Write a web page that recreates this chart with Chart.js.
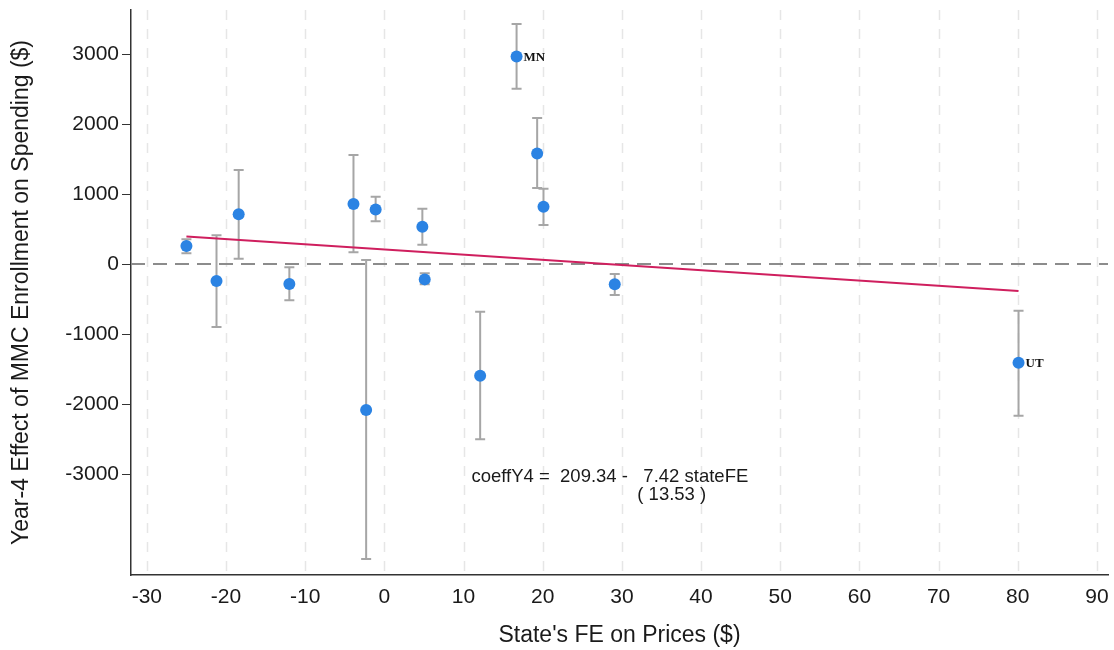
<!DOCTYPE html>
<html>
<head>
<meta charset="utf-8">
<script src="https://cdn.jsdelivr.net/npm/chart.js@4/dist/chart.umd.min.js"></script>
<style>
  html, body { margin: 0; padding: 0; background: #ffffff; }
  #wrap { width: 1114px; height: 650px; position: relative; }
</style>
</head>
<body>
<div id="wrap"><canvas id="c" width="1114" height="650"></canvas></div>
<script>
// State fixed effects on prices (x) and Year-4 coefficient (y) with CI bounds
const stateFE   = [-25.0, -21.2, -18.4, -12.0, -3.9, -1.1, -2.3, 4.8, 5.1, 12.1, 16.7, 19.3, 20.1, 29.1, 80.1];
const coeffY4   = [257, -243, 710, -286, 857, 781, -2086, 533, -219, -1595, 2967, 1581, 819, -290, -1410];
const ciHigh    = [353, 410, 1343, -47, 1557, 961, 57, 790, -133, -681, 3429, 2086, 1076, -143, -667];
const ciLow     = [153, -900, 76, -519, 167, 610, -4214, 276, -290, -2505, 2504, 1086, 557, -443, -2167];
const pointTags = ['', '', '', '', '', '', '', '', '', '', 'MN', '', '', '', 'UT'];

// Fitted line endpoints (coeffY4 = 209.34 - 7.42 stateFE)
const fitX = [-25.0, 80.1];
const fitY = [395, -385];

const xTicks = [-30, -20, -10, 0, 10, 20, 30, 40, 50, 60, 70, 80, 90];
const yTicks = [3000, 2000, 1000, 0, -1000, -2000, -3000];
const eqLine1 = 'coeffY4 =  209.34 -   7.42 stateFE';
const eqLine2 = '( 13.53 )';

const FONT = '"Liberation Sans", Arial, Helvetica, sans-serif';
const TXT = '#1a1a1a';

const errorBars = {
  id: 'errorBars',
  beforeDatasetsDraw(chart) {
    const { ctx, scales: { x, y } } = chart;
    ctx.save();
    ctx.strokeStyle = '#a6a6a6';
    ctx.lineWidth = 2;
    for (let i = 0; i < stateFE.length; i++) {
      const px = x.getPixelForValue(stateFE[i]);
      const pt = y.getPixelForValue(ciHigh[i]);
      const pb = y.getPixelForValue(ciLow[i]);
      ctx.beginPath();
      ctx.moveTo(px, pt); ctx.lineTo(px, pb);
      ctx.moveTo(px - 5, pt); ctx.lineTo(px + 5, pt);
      ctx.moveTo(px - 5, pb); ctx.lineTo(px + 5, pb);
      ctx.stroke();
    }
    ctx.restore();
  },
  afterDatasetsDraw(chart) {
    const { ctx, scales: { x, y } } = chart;
    ctx.save();
    ctx.fillStyle = '#111';
    ctx.font = 'bold 13px "Liberation Serif", "DejaVu Serif", serif';
    ctx.textBaseline = 'middle';
    ctx.textAlign = 'left';
    for (let i = 0; i < stateFE.length; i++) {
      if (!pointTags[i]) continue;
      ctx.fillText(pointTags[i], x.getPixelForValue(stateFE[i]) + 7, y.getPixelForValue(coeffY4[i]) + 1);
    }
    // regression equation
    ctx.fillStyle = TXT;
    ctx.font = '18.5px ' + FONT;
    ctx.textAlign = 'left';
    ctx.fillText(eqLine1, x.getPixelForValue(11.0), y.getPixelForValue(-3040));
    ctx.textAlign = 'center';
    ctx.fillText(eqLine2, x.getPixelForValue(36.3), y.getPixelForValue(-3300));
    ctx.restore();
  }
};

const zeroAndGrid = {
  id: 'zeroAndGrid',
  beforeDatasetsDraw(chart) {
    const { ctx, chartArea: a, scales: { x, y } } = chart;
    ctx.save();
    // vertical dashed grid
    ctx.strokeStyle = '#e6e6e6';
    ctx.lineWidth = 1.5;
    ctx.setLineDash([10, 9]);
    for (const t of xTicks) {
      const px = Math.round(x.getPixelForValue(t)) + 0.5;
      ctx.beginPath(); ctx.moveTo(px, a.top); ctx.lineTo(px, a.bottom); ctx.stroke();
    }
    // zero reference line
    ctx.strokeStyle = '#8c8c8c';
    ctx.lineWidth = 2;
    ctx.setLineDash([14, 8]);
    const py = y.getPixelForValue(0);
    ctx.beginPath(); ctx.moveTo(a.left, py); ctx.lineTo(a.right, py); ctx.stroke();
    ctx.restore();
  }
};

new Chart(document.getElementById('c'), {
  type: 'scatter',
  data: {
    datasets: [
      {
        type: 'line',
        data: fitX.map((v, i) => ({ x: v, y: fitY[i] })),
        borderColor: '#cf1f5e',
        borderWidth: 2,
        pointRadius: 0,
        fill: false,
        order: 2
      },
      {
        data: stateFE.map((v, i) => ({ x: v, y: coeffY4[i] })),
        backgroundColor: '#2b83e3',
        borderColor: '#2b83e3',
        pointRadius: 6,
        pointBorderWidth: 0,
        order: 1
      }
    ]
  },
  plugins: [zeroAndGrid, errorBars],
  options: {
    responsive: false,
    animation: false,
    events: [],
    layout: { padding: { top: 10, right: 4, left: 0, bottom: 0 } },
    plugins: { legend: { display: false }, tooltip: { enabled: false } },
    scales: {
      x: {
        type: 'linear',
        min: -32.0,
        max: 91.4,
        afterBuildTicks(s) { s.ticks = xTicks.map(v => ({ value: v })); },
        afterFit(s) { s.height = 75; s.paddingLeft = 0; s.paddingRight = 0; },
        grid: { display: false, drawOnChartArea: false, drawTicks: true, tickLength: 7, color: '#333' },
        border: { display: true, color: '#333', width: 1.5 },
        ticks: { color: TXT, font: { family: FONT, size: 21 }, padding: 3, maxRotation: 0, autoSkip: false,
                 callback: v => String(v) },
        title: { display: true, text: "State's FE on Prices ($)", color: TXT, font: { family: FONT, size: 23 }, padding: { top: 2, bottom: 1 } }
      },
      y: {
        type: 'linear',
        min: -4443,
        max: 3630,
        afterBuildTicks(s) { s.ticks = yTicks.map(v => ({ value: v })); },
        afterFit(s) { s.width = 131; s.paddingTop = 0; s.paddingBottom = 0; },
        grid: { display: true, drawOnChartArea: false, drawTicks: true, tickLength: 9, color: '#333' },
        border: { display: true, color: '#333', width: 1.5 },
        ticks: { color: TXT, font: { family: FONT, size: 21 }, padding: 3, autoSkip: false,
                 callback: v => String(v) },
        title: { display: true, text: 'Year-4 Effect of MMC Enrollment on Spending ($)', color: TXT, font: { family: FONT, size: 23 }, padding: { top: 8, bottom: 0 } }
      }
    }
  }
});
</script>
</body>
</html>
